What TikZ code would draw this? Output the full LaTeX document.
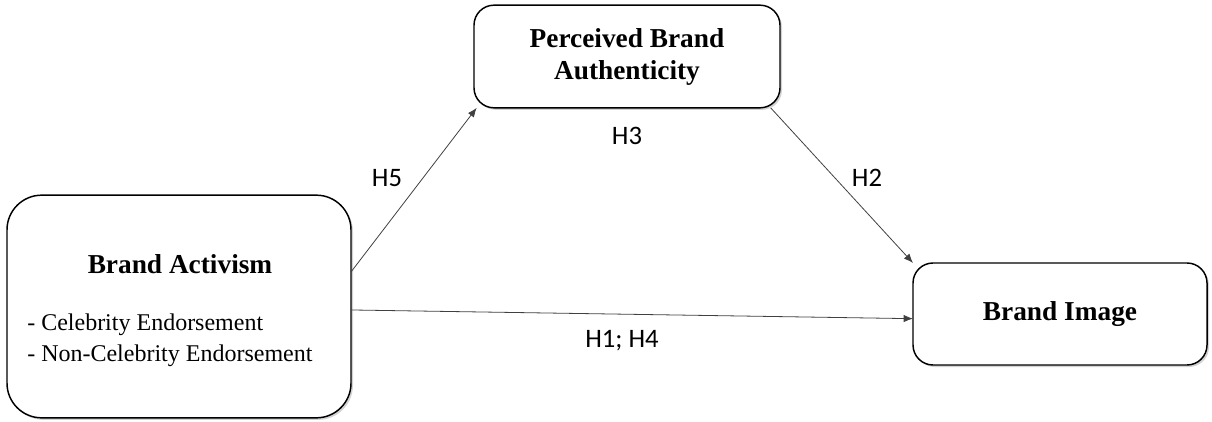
\documentclass[tikz,border=0pt]{standalone}
\usepackage{fontspec}
\setmainfont{Liberation Serif}
\newfontfamily\hypfont{Carlito}
\usetikzlibrary{arrows.meta,shadows}

\begin{document}
\begin{tikzpicture}[
  x=0.75pt, y=-0.75pt,
  box/.style={draw=black, line width=1.1pt, rounded corners=15pt, fill=white, align=center,
    inner sep=0pt, outer sep=0pt, font=\fontsize{20.5}{24}\selectfont\bfseries,
    drop shadow={shadow xshift=1.5pt, shadow yshift=-1.5pt, opacity=0.35}},
  hyp/.style={font=\hypfont\fontsize{20}{24}\selectfont, inner sep=0pt},
  arr/.style={-{Latex[length=7pt,width=5.5pt]}, line width=0.6pt, draw=black!75}
]
  \useasboundingbox (0,0) rectangle (1212,421);
  % boxes
  \node[box, rounded corners=26pt, minimum width=258pt, minimum height=167pt] (act) at (179,306.5) {};
  \node[font=\fontsize{20.5}{24}\selectfont\bfseries, anchor=base, inner sep=0pt] (actT) at (180,273) {Brand Activism};
  \node[font=\fontsize{18}{23}\selectfont, anchor=base west, align=left, inner sep=0pt] (actL) at (27,361)
    {- Celebrity Endorsement\\- Non-Celebrity Endorsement};
  \node[box, minimum width=229.5pt, minimum height=77pt] (pba) at (627,56.5) {Perceived Brand\\Authenticity};
  \node[box, minimum width=220.5pt, minimum height=76.5pt] (img) at (1060,314) {Brand Image};
  % paths
  \draw[arr] ([yshift=25.9pt]act.east) -- ([xshift=2pt]pba.south west);
  \draw[arr] ([xshift=-7pt]pba.south east) -- (img.north west);
  \draw[arr] ([yshift=-2.6pt]act.east) -- ([yshift=-3.5pt]img.west);
  % hypotheses
  \node[hyp] (h5) at (387,178) {H5};
  \node[hyp] (h3) at (627,136) {H3};
  \node[hyp] (h2) at (867,178) {H2};
  \node[hyp] (h14) at (622,341) {H1; H4};
\end{tikzpicture}
\end{document}
